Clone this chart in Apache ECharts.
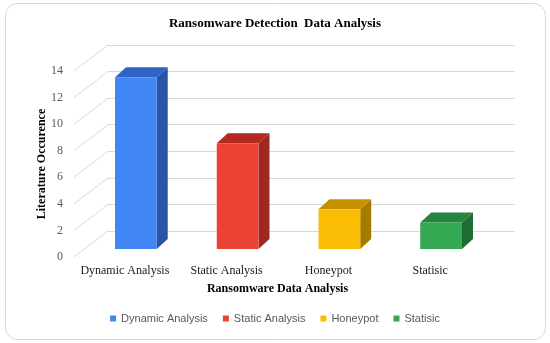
<!DOCTYPE html>
<html>
<head>
<meta charset="utf-8">
<script src="https://cdn.jsdelivr.net/npm/echarts@6/dist/echarts.min.js"></script>
<style>html,body{margin:0;padding:0;background:#fff}#c{width:550px;height:343px}</style>
</head>
<body>
<div id="c"></div>
<script>
const categories = ['Dynamic Analysis', 'Static Analysis', 'Honeypot', 'Statisic'];
const values = [13, 8, 3, 2];
const yTicks = [0, 2, 4, 6, 8, 10, 12, 14];

const frontColors = ['#4285F4', '#EA4335', '#FBBC04', '#34A853'];
const topColors = ['#2F63C4', '#B3291F', '#C49200', '#27843F'];
const sideColors = ['#2A55A6', '#9C2A22', '#A67C00', '#1F6D35'];

const DX = 11, DY = 10;          // bar depth offset (px)
const WALL_DX = -34, WALL_DY = 26; // back wall to front plane offset (px)

const chart = echarts.init(document.getElementById('c'), null, {renderer: 'canvas'});

function barRender(i) {
  return function (params, api) {
    const x = api.value(0), v = api.value(1);
    const b = api.coord([x, 0]);
    const t = api.coord([x, v]);
    const w = api.size([1, 0])[0] * 0.41;
    const l = b[0] - w / 2, r = b[0] + w / 2;
    return {
      type: 'group',
      children: [
        {type: 'polygon', shape: {points: [[r, t[1]], [r + DX, t[1] - DY], [r + DX, b[1] - DY], [r, b[1]]]}, style: {fill: sideColors[i]}},
        {type: 'polygon', shape: {points: [[l, t[1]], [r, t[1]], [r + DX, t[1] - DY], [l + DX, t[1] - DY]]}, style: {fill: topColors[i]}},
        {type: 'rect', shape: {x: l, y: t[1], width: w, height: b[1] - t[1]}, style: {fill: frontColors[i]}}
      ]
    };
  };
}

const barSeries = categories.map((name, i) => ({
  name: name,
  type: 'custom',
  xAxisIndex: 1, yAxisIndex: 1,
  itemStyle: {color: frontColors[i]},
  renderItem: barRender(i),
  data: [[i, values[i]]],
  z: 10
}));

const serif = 'Liberation Serif';

const option = {
  animation: false,
  backgroundColor: '#ffffff',
  title: {
    text: 'Ransomware Detection  Data Analysis',
    left: 'center', top: 12,
    textStyle: {fontFamily: serif, fontWeight: 'bold', fontSize: 13, color: '#000'}
  },
  legend: {
    data: categories,
    bottom: 14, left: 'center',
    icon: 'rect', itemWidth: 6, itemHeight: 6, itemGap: 15,
    textStyle: {fontFamily: 'Liberation Sans', fontSize: 11, color: '#595959'}
  },
  graphic: [{
    type: 'rect', shape: {x: 5.5, y: 3.5, width: 540, height: 336, r: 12},
    style: {fill: 'none', stroke: '#d9d9d9', lineWidth: 1}, z: -10, silent: true
  }],
  grid: [
    {left: 108, right: 35, top: 45, bottom: 112},
    {left: 85, right: 58, top: 64, bottom: 94},
    {left: 74, right: 69, top: 71, bottom: 86}
  ],
  xAxis: [
    {gridIndex: 0, type: 'value', min: 0, max: 1, show: false},
    {gridIndex: 1, type: 'category', data: categories, show: false},
    {gridIndex: 2, type: 'category', data: categories,
      name: 'Ransomware Data Analysis', nameLocation: 'middle', nameGap: 26, nameMoveOverlap: false,
      nameTextStyle: {fontFamily: serif, fontWeight: 'bold', fontSize: 12, color: '#000'},
      axisLine: {show: false}, axisTick: {show: false}, splitLine: {show: false},
      axisLabel: {interval: 0, margin: 8, fontFamily: serif, fontSize: 12, color: '#1a1a1a'}}
  ],
  yAxis: [
    {gridIndex: 0, type: 'value', min: 0, max: 14, interval: 2,
      axisLine: {show: false}, axisTick: {show: false}, axisLabel: {show: false},
      splitLine: {show: true, lineStyle: {color: '#d9d9d9', width: 1}}},
    {gridIndex: 1, type: 'value', min: 0, max: 14, interval: 2, show: false},
    {gridIndex: 2, type: 'value', min: 0, max: 14, interval: 2,
      name: 'Literature Occurence', nameLocation: 'middle', nameGap: 26, nameMoveOverlap: false,
      nameTextStyle: {fontFamily: serif, fontWeight: 'bold', fontSize: 12, color: '#000'},
      axisLine: {show: false}, axisTick: {show: false}, splitLine: {show: false},
      axisLabel: {margin: 11, fontFamily: serif, fontSize: 12, color: '#595959'}}
  ],
  series: [
    {
      type: 'custom', xAxisIndex: 0, yAxisIndex: 0, silent: true,
      data: yTicks.map(v => [0, v]),
      renderItem: function (params, api) {
        const p = api.coord([0, api.value(1)]);
        return {type: 'line', shape: {x1: p[0], y1: p[1], x2: p[0] + WALL_DX, y2: p[1] + WALL_DY},
          style: {stroke: '#d9d9d9', lineWidth: 1}};
      },
      z: 1
    }
  ].concat(barSeries)
};

chart.setOption(option);
</script>
</body>
</html>
